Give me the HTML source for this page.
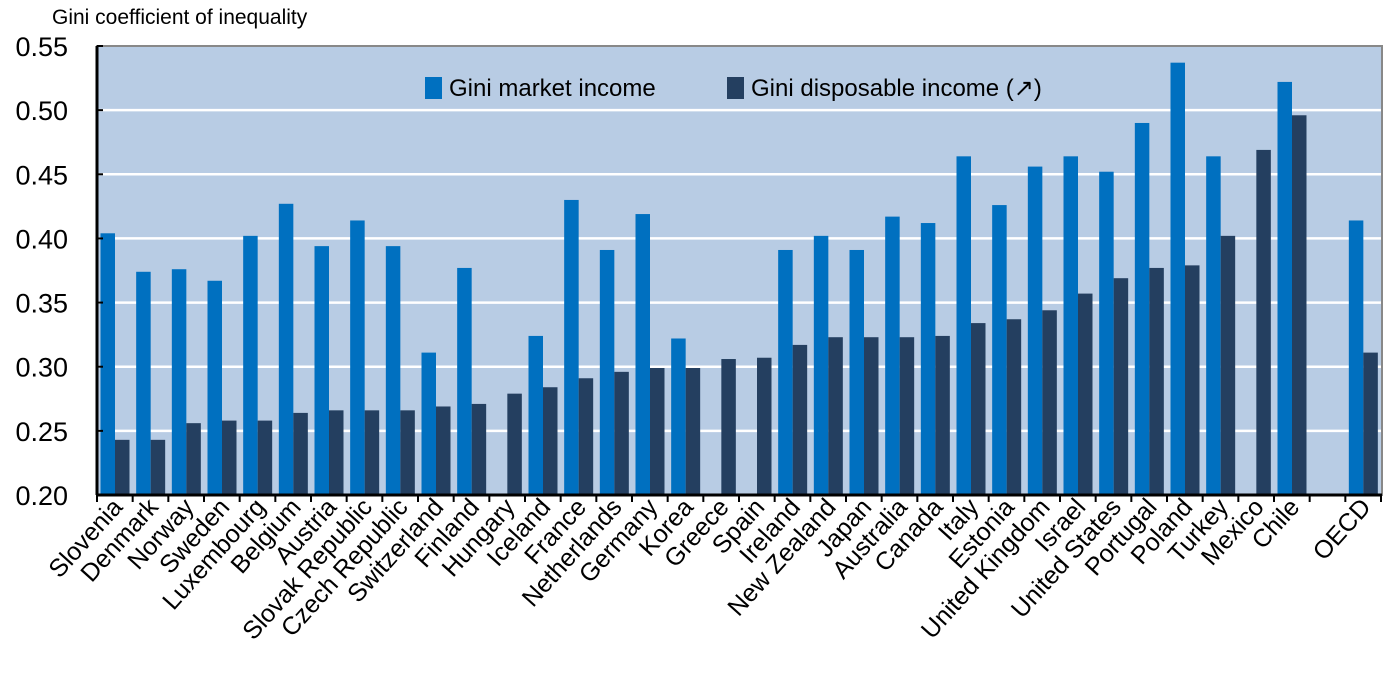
<!DOCTYPE html>
<html><head><meta charset="utf-8"><style>
body{margin:0;background:#fff;}
svg{display:block;font-family:"Liberation Sans",sans-serif;}
</style></head><body>
<svg id="chart" width="1388" height="681">
<text x="52" y="24" font-size="21" fill="#000">Gini coefficient of inequality</text>
<rect x="97" y="46" width="1285" height="449" fill="#b8cce4" stroke="#888" stroke-width="2"/>
<g id="grid"></g><g id="bars"></g><g id="axes"></g><g id="labels"></g>
<g>
<rect x="425" y="77" width="17" height="22" fill="#0070c0"/>
<text x="449" y="96" font-size="24">Gini market income</text>
<rect x="727" y="77" width="17" height="22" fill="#243f60"/>
<text x="751" y="96" font-size="24">Gini disposable income (↗)</text>
</g>
</svg>
<script>
const categories=["Slovenia","Denmark","Norway","Sweden","Luxembourg","Belgium","Austria","Slovak Republic","Czech Republic","Switzerland","Finland","Hungary","Iceland","France","Netherlands","Germany","Korea","Greece","Spain","Ireland","New Zealand","Japan","Australia","Canada","Italy","Estonia","United Kingdom","Israel","United States","Portugal","Poland","Turkey","Mexico","Chile","","OECD"];
const marketIncome=[0.404,0.374,0.376,0.367,0.402,0.427,0.394,0.414,0.394,0.311,0.377,null,0.324,0.430,0.391,0.419,0.322,null,null,0.391,0.402,0.391,0.417,0.412,0.464,0.426,0.456,0.464,0.452,0.490,0.537,0.464,null,0.522,null,0.414];
const disposableIncome=[0.243,0.243,0.256,0.258,0.258,0.264,0.266,0.266,0.266,0.269,0.271,0.279,0.284,0.291,0.296,0.299,0.299,0.306,0.307,0.317,0.323,0.323,0.323,0.324,0.334,0.337,0.344,0.357,0.369,0.377,0.379,0.402,0.469,0.496,null,0.311];
const yTicks=[0.20,0.25,0.30,0.35,0.40,0.45,0.50,0.55];
const NS="http://www.w3.org/2000/svg";
const X0=97,X1=1381,Y0=495,Y1=46,VMIN=0.20,VMAX=0.55;
const slot=(X1-X0)/categories.length;
const y=v=>Y0-(v-VMIN)/(VMAX-VMIN)*(Y0-Y1);
const xs=i=>X0+i*slot;
function mk(tag,attrs,parent){const e=document.createElementNS(NS,tag);for(const k in attrs)e.setAttribute(k,attrs[k]);document.getElementById(parent).appendChild(e);return e;}
yTicks.forEach((t,i)=>{
 if(i>0&&i<yTicks.length-1){const g=mk('line',{x1:X0,x2:X1,y1:y(t),y2:y(t),stroke:'#fff','stroke-width':2.5},'grid');
 
 }
 const tl=mk('text',{x:68,y:y(t)+10,'font-size':27,'text-anchor':'end'},'axes');tl.textContent=t.toFixed(2);
 
 
 const tk=mk('line',{x1:X0,x2:X0+6,y1:y(t),y2:y(t),stroke:'#000','stroke-width':2},'axes');
 
 
});
const bw=14.5,off=3.5;
categories.forEach((c,i)=>{
 if(marketIncome[i]!=null){const r=mk('rect',{x:xs(i)+off,y:y(marketIncome[i]),width:bw,height:Y0-y(marketIncome[i]),fill:'#0070c0'},'bars');
 
 }
 if(disposableIncome[i]!=null){const r=mk('rect',{x:xs(i)+off+bw,y:y(disposableIncome[i]),width:bw,height:Y0-y(disposableIncome[i]),fill:'#243f60'},'bars');
 
 }
 if(c){const cx=xs(i)+slot/2+9;const t=mk('text',{x:cx,y:508,'font-size':25,'text-anchor':'end',transform:`rotate(-48 ${cx} 508)`},'labels');t.textContent=c;
 
 }
});
for(let i=0;i<=categories.length;i++){const tk=mk('line',{x1:xs(i),x2:xs(i),y1:Y0,y2:Y0+7,stroke:'#000','stroke-width':2},'axes');
 
 }
const ax=mk('line',{x1:X0,x2:X1+1,y1:Y0,y2:Y0,stroke:'#000','stroke-width':3},'axes');


const ay=mk('line',{x1:X0,x2:X0,y1:Y1,y2:Y0,stroke:'#000','stroke-width':3},'axes');


</script>
</body></html>
